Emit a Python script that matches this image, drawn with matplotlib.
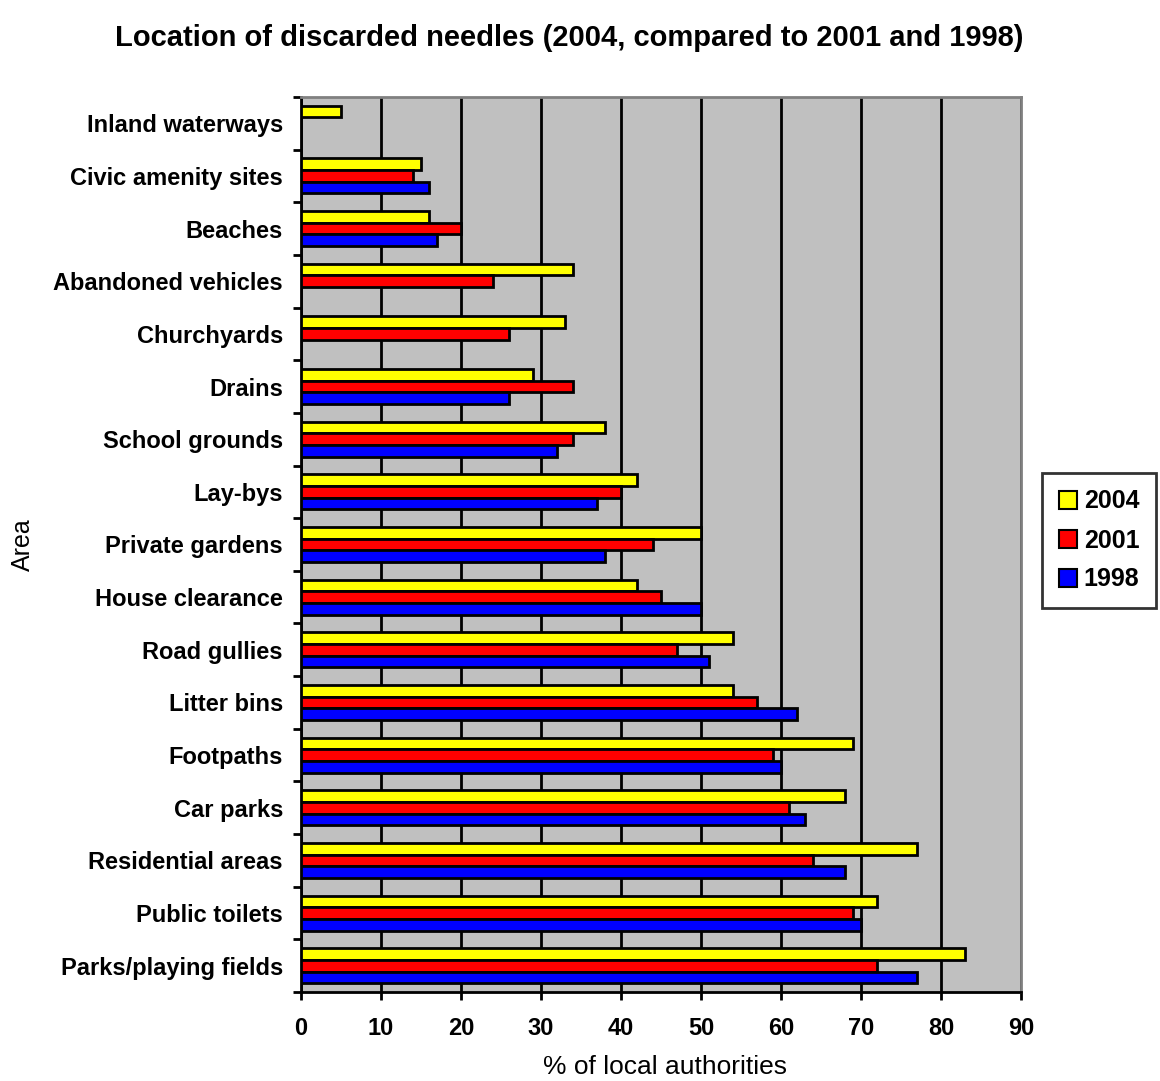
import numpy as np
import matplotlib.pyplot as plt
from matplotlib.patches import Rectangle

plt.rcParams['font.family'] = ['Liberation Sans', 'DejaVu Sans']

# data, top to bottom as shown
areas = ["Inland waterways", "Civic amenity sites", "Beaches", "Abandoned vehicles",
         "Churchyards", "Drains", "School grounds", "Lay-bys", "Private gardens",
         "House clearance", "Road gullies", "Litter bins", "Footpaths", "Car parks",
         "Residential areas", "Public toilets", "Parks/playing fields"]
y2004 = [5, 15, 16, 34, 33, 29, 38, 42, 50, 42, 54, 54, 69, 68, 77, 72, 83]
y2001 = [0, 14, 20, 24, 26, 34, 34, 40, 44, 45, 47, 57, 59, 61, 64, 69, 72]
y1998 = [0, 16, 17, 0, 0, 26, 32, 37, 38, 50, 51, 62, 60, 63, 68, 70, 77]
years = ["2004", "2001", "1998"]
colors = ["#FFFF00", "#FF0000", "#0000FF"]

fig = plt.figure(figsize=(11.6, 10.81), dpi=100)
ax = fig.add_axes([0.2595, 0.0823, 0.6207, 0.828])
ax.set_facecolor("#C0C0C0")

pos = np.arange(len(areas))
h = 0.222
series = [y2004, y2001, y1998]
for i, (vals, c, lab) in enumerate(zip(series, colors, years)):
    v = np.array(vals, dtype=float)
    offs = (i - 1) * h
    mask = v > 0
    ax.barh(pos[mask] + offs, v[mask], height=h, color=c, edgecolor="black",
            linewidth=2, label=lab, zorder=3)

ax.set_xlim(0, 90)
ax.set_ylim(len(areas) - 0.5, -0.5)
ax.set_xticks(np.arange(0, 91, 10))
ax.xaxis.grid(True, color="black", linewidth=2, zorder=1)
ax.set_axisbelow(True)

ax.set_yticks(pos)
ax.set_yticklabels(areas, fontsize=17, fontweight="bold")
ax.set_yticks(np.arange(-0.5, len(areas), 1), minor=True)
ax.tick_params(axis="y", which="major", length=0, pad=13)
ax.tick_params(axis="y", which="minor", length=6, width=2, direction="out")
ax.tick_params(axis="x", length=6, width=2, labelsize=17, pad=12)
for t in ax.get_xticklabels():
    t.set_fontweight("bold")

for s in ["left", "bottom"]:
    ax.spines[s].set_color("black")
    ax.spines[s].set_linewidth(2)
for s in ["top", "right"]:
    ax.spines[s].set_color("#808080")
    ax.spines[s].set_linewidth(2)

fig.text(0.5733, 1 - 1067 / 1081, "% of local authorities", fontsize=19,
         ha="center", va="center")
fig.text(0.0198, 0.496, "Area", rotation=90, fontsize=18, ha="center", va="center")
fig.text(0.4905, 0.965, "Location of discarded needles (2004, compared to 2001 and 1998)",
         fontsize=21, fontweight="bold", ha="center", va="center")

# legend box
handles = [Rectangle((0, 0), 1, 1, facecolor=c, edgecolor="black", linewidth=1.5) for c in colors]
leg = fig.legend(handles, years, loc="center", bbox_to_anchor=(0.9474, 0.5), frameon=True,
                 fancybox=False, edgecolor="black", handlelength=0.75,
                 handleheight=0.75, handletextpad=0.25, labelspacing=0.6,
                 borderpad=0.65, borderaxespad=0, prop={"weight": "bold", "size": 18})
leg.get_frame().set_linewidth(2)

fig.savefig("out.png", dpi=100)
